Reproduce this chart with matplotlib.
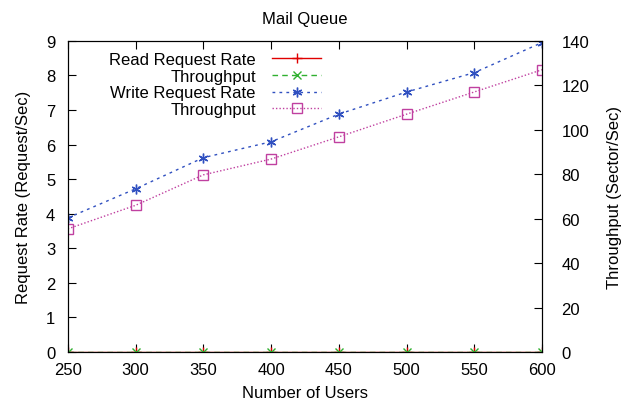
import numpy as np
import matplotlib
matplotlib.use('Agg')
from matplotlib import pyplot as plt

plt.rcParams['font.family'] = ['Liberation Sans', 'DejaVu Sans']
plt.rcParams['font.size'] = 12

## data
users = [250, 300, 350, 400, 450, 500, 550, 600]
read_rate = [0, 0, 0, 0, 0, 0, 0, 0]
read_tput = [0, 0, 0, 0, 0, 0, 0, 0]
write_rate = [3.88, 4.72, 5.62, 6.08, 6.88, 7.52, 8.08, 8.95]
write_tput = [55.4, 66.0, 79.7, 86.8, 96.8, 107.0, 117.0, 127.0]

fig = plt.figure(figsize=(6.34, 4.10), dpi=100)
ax = fig.add_axes([0.107, 0.139, 0.748, 0.759])
ax2 = ax.twinx()

l1, = ax.plot(users, read_rate, color='#e00000', lw=1, marker='+', ms=7, mew=1)
l2, = ax2.plot(users, read_tput, color='#30b030', lw=1, ls=(0, (4, 3)), marker='x', ms=6, mew=1)
l3, = ax.plot(users, write_rate, color='#3050c0', lw=1, ls=(0, (2, 3)), marker=(6, 2, 0), ms=7, mew=1)
l4, = ax2.plot(users, write_tput, color='#c040a0', lw=1, ls=(0, (1, 1.5)), marker='s', ms=7,
               mfc='none', mew=1)

ax.set_xlim(250, 600)
ax.set_ylim(0, 9)
ax2.set_ylim(0, 140)
ax.set_xticks(users)
ax.set_yticks(range(0, 10))
ax2.set_yticks(range(0, 141, 20))

ax.tick_params(direction='in', length=6, top=True, right=False, labelsize=12)
ax.tick_params(axis='y', pad=9)
ax.tick_params(axis='x', pad=7)
ax2.tick_params(direction='in', length=6, labelsize=12, pad=14)

ax.set_title('Mail Queue', fontsize=12, pad=13)
ax.set_xlabel('Number of Users', fontsize=12, labelpad=6)
ax.set_ylabel('Request Rate (Request/Sec)', fontsize=12, labelpad=11)
ax2.set_ylabel('Throughput (Sector/Sec)', fontsize=12, labelpad=13)

ax.legend([l1, l2, l3, l4],
          ['Read Request Rate', 'Throughput', 'Write Request Rate', 'Throughput'],
          loc='upper right', bbox_to_anchor=(0.565, 1.012), markerfirst=False, frameon=False,
          fontsize=12, handlelength=2.9, labelspacing=0.1, handletextpad=1.0)

fig.savefig('out.png', dpi=100)
